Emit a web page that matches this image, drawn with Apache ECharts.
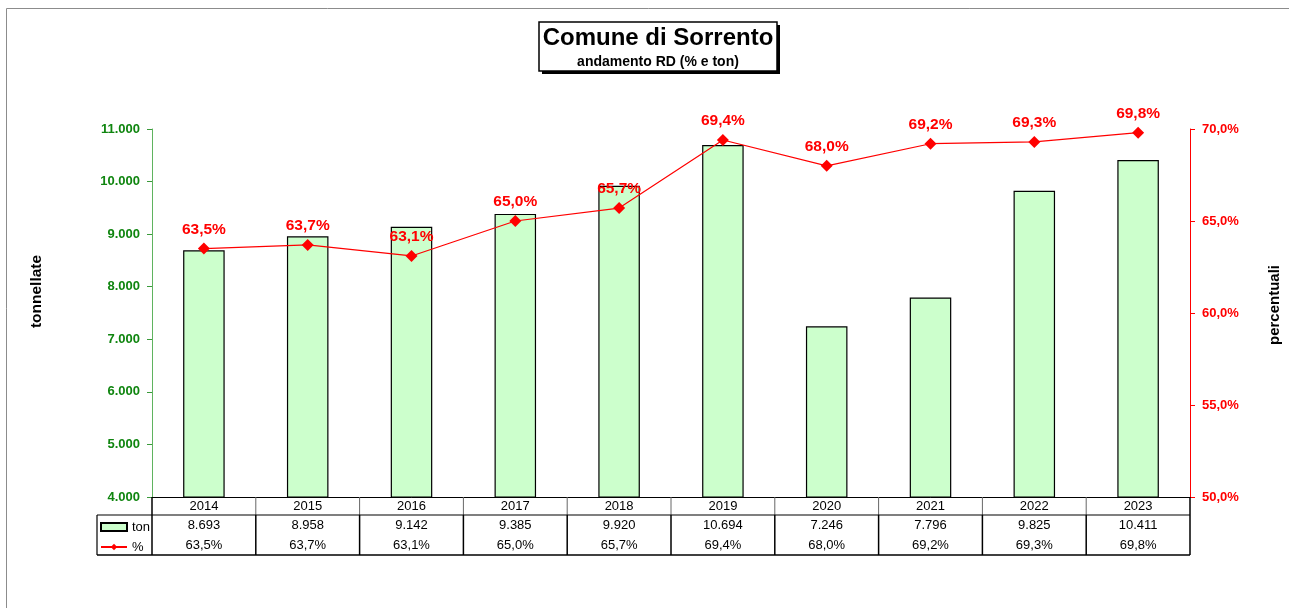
<!DOCTYPE html>
<html>
<head>
<meta charset="utf-8">
<script src="https://cdn.jsdelivr.net/npm/echarts@6/dist/echarts.min.js"></script>
<style>
	html, body { margin: 0; padding: 0; background: #fff; }
	#chart { width: 1289px; height: 608px; }
</style>
</head>
<body>
<div id="chart"></div>
<script>
const years = ['2014', '2015', '2016', '2017', '2018', '2019', '2020', '2021', '2022', '2023'];
const tonValues = [8693, 8958, 9142, 9385, 9920, 10694, 7246, 7796, 9825, 10411];
const pctValues = [63.5, 63.7, 63.1, 65.0, 65.7, 69.4, 68.0, 69.2, 69.3, 69.8];

const tonAxis = { min: 4000, max: 11000, step: 1000 };
const pctAxis = { min: 50, max: 70, step: 5 };

const titleText = 'Comune di Sorrento';
const subtitleText = 'andamento RD (% e ton)';

const FONT = '"Liberation Sans", Arial, sans-serif';

// 8693 -> "8.693"
function fmtTon(v) {
	return String(v).replace(/\B(?=(\d{3})+(?!\d))/g, '.');
}
// 63.5 -> "63,5%"
function fmtPct(v) {
	return v.toFixed(1).replace('.', ',') + '%';
}

const chart = echarts.init(document.getElementById('chart'), null, { renderer: 'canvas' });

const option = {
	animation: false,
	textStyle: { fontFamily: FONT },
	legend: {
		orient: 'vertical',
		left: 95,
		top: 512,
		itemGap: 0,
		itemWidth: 26,
		itemHeight: 8,
		textStyle: { fontFamily: FONT, fontSize: 13, color: '#000', lineHeight: 20 },
		data: [{ name: 'ton', icon: 'rect' }, { name: '%' }]
	},
	grid: { left: 152, right: 99, top: 129, bottom: 111, containLabel: false, outerBoundsMode: 'none' },
	xAxis: {
		type: 'category',
		data: years,
		axisLine: { lineStyle: { color: '#000', width: 1 } },
		axisTick: { show: false },
		axisLabel: {
			margin: 0,
			interval: 0,
			formatter: (val, idx) => `{y|${val}}\n{t|${fmtTon(tonValues[idx])}}\n{p|${fmtPct(pctValues[idx])}}`,
			rich: {
				y: { fontFamily: FONT, fontSize: 13, color: '#000', lineHeight: 18 },
				t: { fontFamily: FONT, fontSize: 13, color: '#000', lineHeight: 20 },
				p: { fontFamily: FONT, fontSize: 13, color: '#000', lineHeight: 20 }
			}
		}
	},
	yAxis: [
		{
			type: 'value',
			min: tonAxis.min,
			max: tonAxis.max,
			interval: tonAxis.step,
			name: 'tonnellate',
			nameLocation: 'middle',
			nameRotate: 90,
			nameGap: 107,
			nameTextStyle: { fontFamily: FONT, fontSize: 15.5, fontWeight: 'bold', color: '#000', padding: [0, 0, 0, 43] },
			axisLine: { show: true, lineStyle: { color: '#5fb35f', width: 1 } },
			axisTick: { show: true, length: 5, lineStyle: { color: '#3a9a3a' } },
			axisLabel: {
				margin: 12,
				color: '#0f850f',
				fontWeight: 'bold',
				fontSize: 13,
				fontFamily: FONT,
				formatter: v => fmtTon(v)
			},
			splitLine: { show: false }
		},
		{
			type: 'value',
			min: pctAxis.min,
			max: pctAxis.max,
			interval: pctAxis.step,
			position: 'right',
			name: 'percentuali',
			nameLocation: 'middle',
			nameRotate: 90,
			nameGap: 77,
			nameTextStyle: { fontFamily: FONT, fontSize: 15, fontWeight: 'bold', color: '#000', padding: [0, 0, 0, 16] },
			axisLine: { show: true, lineStyle: { color: '#ff0000', width: 1 } },
			axisTick: { show: true, length: 5, lineStyle: { color: '#ff0000' } },
			axisLabel: {
				margin: 12,
				color: '#ff0000',
				fontWeight: 'bold',
				fontSize: 13,
				fontFamily: FONT,
				formatter: v => fmtPct(v)
			},
			splitLine: { show: false }
		}
	],
	series: [
		{
			name: 'ton',
			type: 'bar',
			yAxisIndex: 0,
			data: tonValues,
			barWidth: '40%',
			itemStyle: { color: '#ccffcc', borderColor: '#000', borderWidth: 1.2 }
		},
		{
			name: '%',
			type: 'line',
			yAxisIndex: 1,
			data: pctValues,
			symbol: 'diamond',
			symbolSize: 12,
			lineStyle: { color: '#ff0000', width: 1.2 },
			itemStyle: { color: '#ff0000' },
			label: {
				show: true,
				position: 'top',
				distance: 5,
				color: '#ff0000',
				fontWeight: 'bold',
				fontSize: 15.5,
				fontFamily: FONT,
				formatter: p => fmtPct(p.value)
			},
			z: 5
		}
	]
};

chart.setOption(option);

// title box + data-table grid lines, placed from the axis scales
function drawExtras() {
	const c0 = chart.convertToPixel({ xAxisIndex: 0 }, years[0]);
	const c1 = chart.convertToPixel({ xAxisIndex: 0 }, years[1]);
	const band = c1 - c0;
	const x0 = c0 - band / 2;
	const xEnd = x0 + band * years.length;
	const yTop = chart.convertToPixel({ yAxisIndex: 0 }, tonAxis.min);
	const yMid = yTop + 18;
	const yBot = yTop + 58;
	const legendLeft = 97;

	const els = [];
	// outer chart-area frame
	els.push({
		type: 'rect', shape: { x: 6.5, y: 8.5, width: 1400, height: 700 },
		style: { fill: 'none', stroke: '#8c8c8c', lineWidth: 1 }, silent: true, z: 0
	});

	// title box with drop shadow
	els.push({ type: 'rect', shape: { x: 542, y: 25, width: 238, height: 49 }, style: { fill: '#000' }, z: 20 });
	els.push({ type: 'rect', shape: { x: 539, y: 22, width: 238, height: 49 }, style: { fill: '#fff', stroke: '#000', lineWidth: 1.5 }, z: 21 });
	els.push({
		type: 'text', x: 658, y: 38, z: 22,
		style: { text: titleText, font: `bold 24px ${FONT}`, fill: '#000', align: 'center', verticalAlign: 'middle' }
	});
	els.push({
		type: 'text', x: 658, y: 62, z: 22,
		style: { text: subtitleText, font: `bold 14px ${FONT}`, fill: '#000', align: 'center', verticalAlign: 'middle' }
	});

	for (let i = 0; i <= years.length; i++) {
		const x = x0 + i * band;
		const edge = i === 0 || i === years.length;
		els.push({
			type: 'line', shape: { x1: x, y1: yTop, x2: x, y2: yMid },
			style: { stroke: edge ? '#000' : '#666', lineWidth: edge ? 1.5 : 1 }, z: 10
		});
		els.push({
			type: 'line', shape: { x1: x, y1: yMid, x2: x, y2: yBot },
			style: { stroke: '#000', lineWidth: 1.5 }, z: 10
		});
	}
	els.push({ type: 'line', shape: { x1: legendLeft, y1: yMid, x2: xEnd, y2: yMid }, style: { stroke: '#000', lineWidth: 1.2 }, z: 10 });
	els.push({ type: 'line', shape: { x1: legendLeft, y1: yBot, x2: xEnd, y2: yBot }, style: { stroke: '#000', lineWidth: 1.5 }, z: 10 });
	els.push({ type: 'line', shape: { x1: legendLeft, y1: yMid, x2: legendLeft, y2: yBot }, style: { stroke: '#000', lineWidth: 1.2 }, z: 10 });

	chart.setOption({ graphic: els });
}
drawExtras();
</script>
</body>
</html>
